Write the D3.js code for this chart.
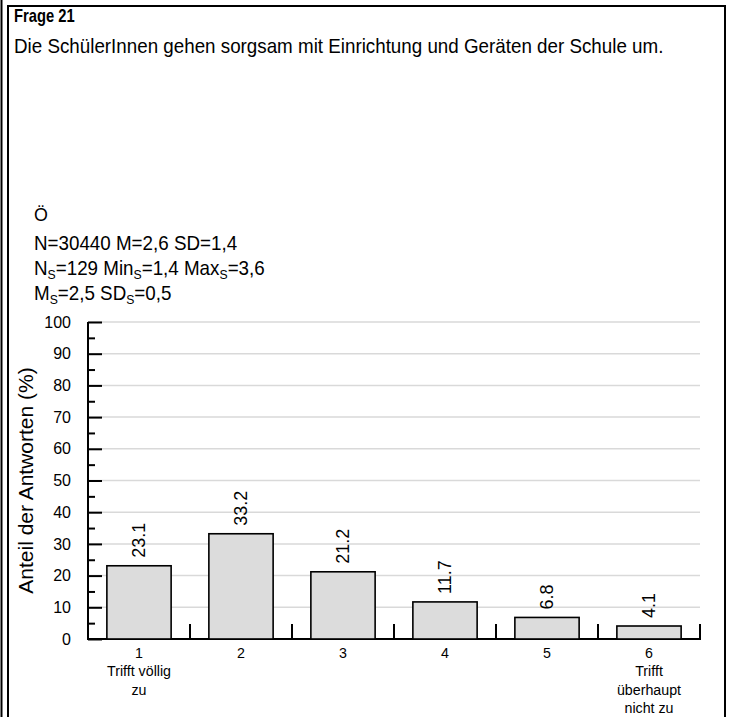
<!DOCTYPE html>
<html><head><meta charset="utf-8">
<script src="https://cdn.jsdelivr.net/npm/d3@7"></script>
<style>
html,body{margin:0;padding:0;background:#fff;}
svg{display:block;font-family:"Liberation Sans",Arial,Helvetica,sans-serif;}
</style></head>
<body>
<svg id="chart" width="732" height="717"></svg>
<script>
const categories = ["1","2","3","4","5","6"];
const catLabels = [["Trifft völlig","zu"],[],[],[],[],["Trifft","überhaupt","nicht zu"]];
const values = [23.1, 33.2, 21.2, 11.7, 6.8, 4.1];
const yTicks = [0,10,20,30,40,50,60,70,80,90,100];
const titleText = "Frage 21";
const questionText = "Die SchülerInnen gehen sorgsam mit Einrichtung und Geräten der Schule um.";
const groupText = "Ö";
const statLines = [
  [["N=30440 M=2,6 SD=1,4",false]],
  [["N",false],["S",true],["=129 Min",false],["S",true],["=1,4 Max",false],["S",true],["=3,6",false]],
  [["M",false],["S",true],["=2,5 SD",false],["S",true],["=0,5",false]]
];
const yTitle = "Anteil der Antworten (%)";

const svg = d3.select("#chart");

// frame
svg.append("line").attr("x1",1.5).attr("x2",1.5).attr("y1",0).attr("y2",717).attr("stroke","#000").attr("stroke-width",2);
svg.append("path").attr("d","M8,720 V6 H725 V720").attr("fill","none").attr("stroke","#000").attr("stroke-width",2);

function htext(x,y,size,sx,weight){
  return svg.append("text").attr("transform",`translate(${x},${y}) scale(${sx},1)`)
    .attr("font-size",size).attr("font-weight",weight||"normal").attr("fill","#000");
}
htext(14,22,18,0.82,"bold").text(titleText);
htext(14,53,20,0.94).text(questionText);
htext(34,221,19,0.94).text(groupText);
statLines.forEach((parts,i)=>{
  const t = htext(34,250+i*25,20,0.94);
  parts.forEach(([s,sub],j)=>{
    const prevSub = j>0 && parts[j-1][1];
    const ts = t.append("tspan").text(s).attr("dy", sub ? 4 : (prevSub ? -4 : 0));
    if(sub) ts.attr("font-size",13);
  });
});

// scales
const x0 = 88, x1 = 700, yTop = 322, yBot = 639;
const x = d3.scaleBand().domain(categories).range([x0,x1]).paddingInner(0).paddingOuter(0);
const y = d3.scaleLinear().domain([0,100]).range([yBot,yTop]);
const bw = x.bandwidth()*0.63;

// grid
svg.append("g").selectAll("line").data(yTicks.filter(d=>d>0)).join("line")
  .attr("x1",x0).attr("x2",x1).attr("y1",d=>y(d)).attr("y2",d=>y(d))
  .attr("stroke","#d9d9d9").attr("stroke-width",1.5);

// y axis
const yAxis = d3.axisLeft(y).tickValues(yTicks).tickSize(-14).tickPadding(17).tickFormat(d3.format("d"));
const ga = svg.append("g").attr("transform",`translate(${x0},0)`).call(yAxis);
ga.select(".domain").remove();
ga.selectAll(".tick line").attr("stroke","#000").attr("stroke-width",2);
ga.selectAll(".tick text").attr("font-size",16).attr("font-family",null).attr("fill","#000");
const yMinor = d3.axisLeft(y).tickValues(d3.range(5,100,10)).tickSize(-7).tickFormat("");
const gm = svg.append("g").attr("transform",`translate(${x0},0)`).call(yMinor);
gm.select(".domain").remove();
gm.selectAll(".tick line").attr("stroke","#000").attr("stroke-width",2);
svg.append("line").attr("x1",x0).attr("x2",x0).attr("y1",yTop).attr("y2",yBot).attr("stroke","#000").attr("stroke-width",2);

// x axis baseline + separators
svg.append("line").attr("x1",x0-1).attr("x2",x1+1).attr("y1",yBot).attr("y2",yBot).attr("stroke","#000").attr("stroke-width",2);
svg.append("g").selectAll("line").data(categories).join("line")
  .attr("x1",d=>x(d)+x.bandwidth()).attr("x2",d=>x(d)+x.bandwidth())
  .attr("y1",yBot).attr("y2",yBot-15).attr("stroke","#000").attr("stroke-width",2);

// bars
svg.append("g").selectAll("rect").data(values).join("rect")
  .attr("x",(d,i)=>x(categories[i])+x.bandwidth()/2-bw/2)
  .attr("width",bw)
  .attr("y",d=>y(d)).attr("height",d=>yBot-y(d))
  .attr("fill","#dcdcdc").attr("stroke","#000").attr("stroke-width",1.6);

// value labels
svg.append("g").selectAll("text").data(values).join("text")
  .attr("transform",(d,i)=>`translate(${x(categories[i])+x.bandwidth()/2+6},${y(d)-8}) rotate(-90)`)
  .attr("font-size",18).attr("fill","#000").text(d=>d.toFixed(1));

// category labels
categories.forEach((c,i)=>{
  const cx = x(c)+x.bandwidth()/2;
  const t = svg.append("text").attr("transform",`translate(${cx},658) scale(0.95,1)`)
    .attr("text-anchor","middle").attr("font-size",15).attr("fill","#000");
  t.append("tspan").attr("x",0).attr("y",0).text(c);
  catLabels[i].forEach((l,k)=>t.append("tspan").attr("x",0).attr("y",18.5*(k+1)).text(l));
});

// y title
svg.append("text").attr("transform",`translate(33,${(yTop+yBot)/2}) rotate(-90)`)
  .attr("text-anchor","middle").attr("font-size",21).attr("fill","#000").text(yTitle);
</script>
</body></html>
